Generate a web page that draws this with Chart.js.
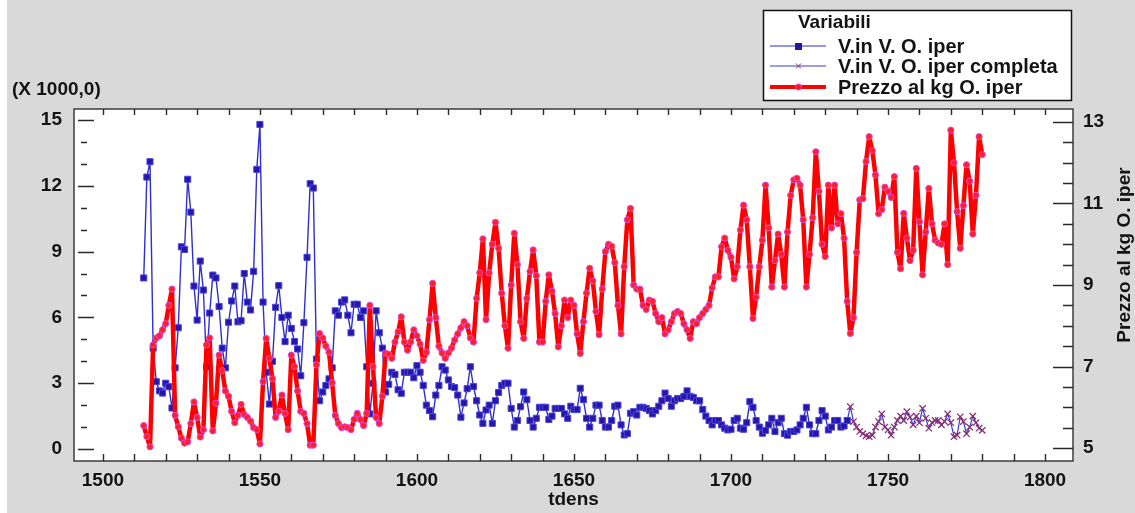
<!DOCTYPE html>
<html>
<head>
<meta charset="utf-8">
<title>Variabili</title>
<script src="https://cdn.jsdelivr.net/npm/chart.js@4.4.1/dist/chart.umd.min.js"></script>
<style>
  html, body { margin: 0; padding: 0; background: #ffffff; }
  canvas { display: block; }
</style>
</head>
<body>
<canvas id="tdensChart" width="1135" height="513"></canvas>
<script>
// --- data ---
const firstYear = 1513;          // first year of V.in V. O. iper and of the price
const completaStart = 1737;      // completed series continues from here

// V.in V. O. iper (x 1000), 1513-1737
const vinIper = [
  7.8, 12.4, 13.1, 4.6, 3.07, 2.65, 2.55,
  3.0, 2.84, 1.87, 3.7, 5.53, 9.22, 9.1, 12.3, 10.8, 7.43,
  5.88, 8.57, 7.25, 3.75, 6.2, 7.93, 7.8, 6.5, 4.6, 3.7,
  5.78, 6.75, 7.43, 5.8, 5.85, 8.0, 6.7, 6.34, 8.1, 12.75,
  14.8, 6.7, 3.5, 2.05, 4.0, 6.46, 7.45, 6.0, 4.9, 6.1,
  5.5, 4.9, 4.56, 3.34, 5.76, 8.74, 12.1, 11.9, 4.1, 2.2,
  2.6, 2.9, 3.2, 3.7, 6.3, 6.1, 6.7, 6.8, 6.1, 5.3,
  6.6, 6.6, 6.0, 6.3, 3.75, 1.6, 3.0, 6.3, 5.3, 4.6,
  2.6, 2.95, 3.5, 3.4, 2.7, 2.54, 3.5, 3.5, 3.5, 3.25,
  3.8, 3.5, 2.9, 2.0, 1.75, 1.47, 2.46, 2.9, 3.75, 3.6,
  3.15, 2.85, 2.8, 2.46, 1.45, 2.1, 2.75, 3.75, 2.85, 2.2,
  1.55, 1.17, 1.78, 2.0, 1.17, 2.2, 2.58, 2.9, 3.0, 3.0,
  1.85, 1.0, 1.3, 1.93, 2.6, 2.25, 1.3, 1.0, 1.4, 1.9,
  1.9, 1.9, 1.35, 1.5, 1.85, 1.85, 1.85, 1.6, 1.4, 1.95,
  1.8, 1.8, 2.77, 2.25, 1.4, 1.0, 1.4, 2.0, 2.0, 1.3,
  1.0, 1.0, 1.3, 1.95, 2.0, 1.1, 0.64, 0.7, 1.63, 1.7,
  1.55, 1.9, 1.9, 1.85, 1.75, 1.6, 1.75, 1.95, 2.2, 2.55,
  2.3, 1.95, 2.2, 2.3, 2.3, 2.4, 2.65, 2.4, 2.35, 2.2,
  2.2, 1.8, 1.5, 1.3, 1.1, 1.3, 1.3, 1.1, 0.95, 0.87,
  0.9, 1.3, 1.4, 0.95, 0.9, 1.2, 2.16, 1.9, 1.3, 1.0,
  0.72, 0.85, 1.1, 1.4, 0.8, 1.2, 1.4, 0.7, 0.63, 0.8,
  0.8, 0.87, 1.1, 1.4, 1.9, 1.1, 0.7, 0.7, 1.3, 1.75,
  1.5, 0.87, 1.0, 1.3, 1.3, 1.0, 1.05, 1.3
];

// V.in V. O. iper completa (x 1000), 1737-1780
const vinCompleta = [
  1.3, 1.93, 1.25, 1.0, 0.8, 0.7, 0.6, 0.56, 0.63, 1.0,
  1.25, 1.6, 1.0, 0.87, 0.63, 1.0, 1.3, 1.5, 1.3, 1.7,
  1.45, 1.1, 1.5, 1.2, 1.85, 1.4, 0.95, 1.2, 1.3, 1.3,
  1.1, 1.25, 1.6, 1.2, 0.56, 0.63, 1.47, 1.25, 0.7, 1.0,
  1.5, 1.2, 0.95, 0.85
];

// Prezzo al kg O. iper, 1513-1780
const prezzo = [
  5.55, 5.28, 5.03, 7.53, 7.7, 7.75, 7.9,
  8.05, 8.5, 8.9, 5.8, 5.52, 5.24, 5.12, 5.15, 5.6, 6.13,
  5.75, 5.27, 5.45, 7.53, 7.7, 5.42, 6.1, 7.28, 6.9, 6.4,
  6.27, 5.9, 5.62, 5.8, 6.07, 5.82, 5.75, 5.66, 5.5, 5.45,
  5.1, 6.63, 7.69, 7.2, 6.7, 5.75, 5.9, 6.3, 5.85, 5.45,
  7.28, 7.0, 6.4, 5.9, 5.85, 5.6, 5.07, 5.07, 7.04, 7.81,
  7.7, 7.5, 7.35, 6.6, 5.8, 5.6, 5.5, 5.52, 5.5, 5.45,
  5.7, 5.85, 5.7, 5.55, 5.85, 8.5, 7.0, 5.75, 5.6, 6.27,
  7.33, 7.3, 7.2, 7.6, 7.85, 8.22, 7.6, 7.4, 7.6, 7.9,
  7.75, 7.55, 7.15, 7.35, 8.15, 9.04, 8.2, 7.5, 7.33, 7.2,
  7.33, 7.45, 7.65, 7.8, 7.95, 8.1, 8.0, 7.7, 7.6, 8.67,
  9.3, 10.13, 8.15, 9.3, 10.0, 10.54, 9.9, 8.8, 8.0, 7.45,
  9.0, 10.27, 9.5, 8.1, 7.69, 8.67, 9.33, 9.86, 9.23, 7.6,
  7.6, 8.6, 9.25, 8.85, 8.3, 7.48, 8.0, 8.63, 8.2, 8.63,
  8.5, 7.8, 7.32, 8.1, 8.8, 9.41, 9.1, 8.35, 7.78, 8.9,
  9.82, 10.0, 9.95, 9.55, 8.5, 7.8, 9.45, 10.6, 10.88, 9.0,
  8.9, 8.9, 8.5, 8.4, 8.63, 8.6, 8.3, 8.1, 8.2, 7.8,
  7.9, 8.1, 8.3, 8.35, 8.3, 8.05, 7.9, 7.69, 8.1, 8.05,
  8.2, 8.3, 8.4, 8.5, 8.93, 9.2, 9.2, 9.94, 10.15, 9.85,
  9.68, 9.15, 9.45, 10.35, 10.96, 10.6, 9.45, 8.18, 8.7, 9.45,
  10.1, 11.45, 10.4, 8.95, 9.6, 10.25, 9.75, 8.95, 10.3, 11.2,
  11.58, 11.62, 11.45, 10.6, 8.95, 9.75, 10.65, 12.27, 11.3, 10.0,
  9.7, 11.45, 10.4, 11.45, 10.5, 10.75, 10.15, 8.6, 7.81, 8.2,
  9.8, 11.09, 11.12, 12.03, 12.64, 12.3, 11.7, 10.75, 10.85, 11.4,
  11.3, 11.15, 11.66, 9.8, 9.4, 10.76, 10.15, 9.6, 9.85, 11.86,
  10.55, 9.25, 10.3, 11.37, 10.5, 10.1, 10.03, 10.0, 10.5, 9.5,
  12.8, 12.0, 10.8, 9.9, 10.95, 11.95, 11.55, 10.25, 11.2, 12.64,
  12.2
];

// tick labels
const yearTicks = [1500, 1550, 1600, 1650, 1700, 1750, 1800];
const leftTicks = [0, 3, 6, 9, 12, 15];
const rightTicks = [5, 7, 9, 11, 13];

const FONT = '"Liberation Sans", Arial, sans-serif';
const INK = '#141414';

function toPoints(start, values) {
  return values.map((v, i) => ({ x: start + i, y: v }));
}

// Statgraphics look: grey page, white plot, framed box, inward ticks, custom legend
const statPlugin = {
  id: 'statLook',
  beforeDraw(chart) {
    const { ctx, chartArea: a } = chart;
    ctx.save();
    ctx.fillStyle = '#ffffff';
    ctx.fillRect(0, 0, chart.width, chart.height);
    ctx.fillStyle = '#d9d9d9';
    ctx.fillRect(7, 0, chart.width - 7, chart.height);
    ctx.fillStyle = '#ffffff';
    ctx.fillRect(a.left, a.top, a.right - a.left, a.bottom - a.top);
    ctx.restore();
  },
  afterDraw(chart) {
    const { ctx, chartArea: a, scales } = chart;
    ctx.save();

    // frame
    ctx.strokeStyle = '#3c3c3c';
    ctx.lineWidth = 1.5;
    ctx.strokeRect(a.left, a.top, a.right - a.left, a.bottom - a.top);

    // ticks
    ctx.lineWidth = 1.4;
    ctx.strokeStyle = '#2a2a2a';
    ctx.beginPath();
    for (let yr = 1500; yr <= 1800; yr += 10) {
      const x = Math.round(scales.x.getPixelForValue(yr)) + 0.5;
      ctx.moveTo(x, a.bottom); ctx.lineTo(x, a.bottom - 7);
      ctx.moveTo(x, a.top); ctx.lineTo(x, a.top + 6);
    }
    for (let v = 0; v <= 15; v++) {
      const y = Math.round(scales.y.getPixelForValue(v)) + 0.5;
      if (v % 3 === 0) { ctx.moveTo(a.left + 4, y); ctx.lineTo(a.left + 20, y); }
      else { ctx.moveTo(a.left + 7, y); ctx.lineTo(a.left + 13, y); }
    }
    for (let v = 5; v <= 13; v += 0.5) {
      const y = Math.round(scales.y2.getPixelForValue(v)) + 0.5;
      const len = (v % 2 === 1) ? 20 : 10;
      ctx.moveTo(a.right - len, y); ctx.lineTo(a.right, y);
    }
    ctx.stroke();

    // axis titles
    ctx.fillStyle = INK;
    ctx.font = 'bold 19px ' + FONT;
    ctx.textBaseline = 'middle';
    ctx.textAlign = 'left';
    ctx.fillText('(X 1000,0)', 12, 90);
    ctx.textAlign = 'center';
    ctx.fillText('tdens', (a.left + a.right) / 2, 500);
    ctx.save();
    ctx.translate(1125, 255);
    ctx.rotate(-Math.PI / 2);
    ctx.fillText('Prezzo al kg O. iper', 0, 0);
    ctx.restore();

    // legend box
    ctx.fillStyle = '#ffffff';
    ctx.fillRect(763, 10, 309, 91);
    ctx.strokeStyle = '#111111';
    ctx.lineWidth = 1.5;
    ctx.strokeRect(763.5, 10.5, 308, 90);

    ctx.fillStyle = INK;
    ctx.textAlign = 'left';
    ctx.font = 'bold 19px ' + FONT;
    ctx.fillText('Variabili', 798, 23);

    const rows = [
      { y: 46, text: 'V.in V. O. iper', color: '#2f2fd0', width: 1.2, marker: 'rect' },
      { y: 66, text: 'V.in V. O. iper completa', color: '#3a3ad0', width: 1, marker: 'cross' },
      { y: 87, text: 'Prezzo al kg O. iper', color: '#ff0000', width: 4, marker: 'circle' }
    ];
    ctx.font = 'bold 20px ' + FONT;
    rows.forEach(r => {
      ctx.strokeStyle = r.color;
      ctx.lineWidth = r.width;
      ctx.beginPath();
      ctx.moveTo(770, r.y); ctx.lineTo(826, r.y);
      ctx.stroke();
      if (r.marker === 'rect') {
        ctx.fillStyle = '#2a14a8';
        ctx.fillRect(795, r.y - 3, 7, 7);
      } else if (r.marker === 'cross') {
        ctx.strokeStyle = '#8a3070';
        ctx.lineWidth = 1;
        ctx.beginPath();
        ctx.moveTo(796, r.y - 2.5); ctx.lineTo(801, r.y + 2.5);
        ctx.moveTo(801, r.y - 2.5); ctx.lineTo(796, r.y + 2.5);
        ctx.stroke();
      } else {
        ctx.fillStyle = '#ff1a1a';
        ctx.strokeStyle = '#e040d8';
        ctx.lineWidth = 1;
        ctx.beginPath();
        ctx.arc(798.5, r.y, 3, 0, Math.PI * 2);
        ctx.fill(); ctx.stroke();
      }
      ctx.fillStyle = INK;
      ctx.fillText(r.text, 838, r.y + 1);
    });

    ctx.restore();
  }
};

document.addEventListener('DOMContentLoaded', () => {
  const ctx = document.getElementById('tdensChart').getContext('2d');
  const tickFont = { family: FONT, size: 19, weight: 'bold' };

  new Chart(ctx, {
    type: 'line',
    data: {
      datasets: [
        {
          label: 'Prezzo al kg O. iper',
          data: toPoints(firstYear, prezzo),
          yAxisID: 'y2',
          borderColor: '#ff0000',
          borderWidth: 4.5,
          borderJoinStyle: 'round',
          borderCapStyle: 'round',
          pointStyle: 'circle',
          pointRadius: 3.1,
          pointBackgroundColor: '#ff2020',
          pointBorderColor: '#e048e0',
          pointBorderWidth: 1
        },
        {
          label: 'V.in V. O. iper',
          data: toPoints(firstYear, vinIper),
          yAxisID: 'y',
          borderColor: '#2f2fd0',
          borderWidth: 1.4,
          borderJoinStyle: 'round',
          pointStyle: 'rect',
          pointRadius: 4.3,
          pointBackgroundColor: '#2a14a8',
          pointBorderColor: '#4646dc',
          pointBorderWidth: 1
        },
        {
          label: 'V.in V. O. iper completa',
          data: toPoints(completaStart, vinCompleta),
          yAxisID: 'y',
          borderColor: '#3a3ad0',
          borderWidth: 1.2,
          borderJoinStyle: 'round',
          pointStyle: 'crossRot',
          pointRadius: 4.5,
          pointBorderColor: '#8a3070',
          pointBorderWidth: 1.3
        }
      ]
    },
    options: {
      responsive: false,
      devicePixelRatio: 1,
      animation: false,
      layout: { padding: { top: 109, left: 0, right: 0, bottom: 0 } },
      elements: { line: { tension: 0 } },
      plugins: {
        legend: { display: false },
        tooltip: { enabled: false }
      },
      scales: {
        x: {
          type: 'linear',
          position: 'bottom',
          min: 1490.8,
          max: 1808.9,
          afterBuildTicks: s => { s.ticks = yearTicks.map(v => ({ value: v })); },
          afterFit: s => { s.height = 52; },
          grid: { display: false, drawTicks: false },
          border: { display: false },
          ticks: {
            font: tickFont, color: INK, padding: 8,
            autoSkip: false, maxRotation: 0,
            callback: v => String(v)
          }
        },
        y: {
          position: 'left',
          min: -0.547,
          max: 15.504,
          afterBuildTicks: s => { s.ticks = leftTicks.map(v => ({ value: v })); },
          afterFit: s => { s.width = 74; },
          grid: { display: false, drawTicks: false },
          border: { display: false },
          ticks: { font: tickFont, color: INK, padding: 12, callback: v => String(v) }
        },
        y2: {
          position: 'right',
          min: 4.681,
          max: 13.319,
          afterBuildTicks: s => { s.ticks = rightTicks.map(v => ({ value: v })); },
          afterFit: s => { s.width = 62; },
          grid: { display: false, drawTicks: false },
          border: { display: false },
          ticks: { font: tickFont, color: INK, padding: 10, callback: v => String(v) }
        }
      }
    },
    plugins: [statPlugin]
  });
});
</script>
</body>
</html>
